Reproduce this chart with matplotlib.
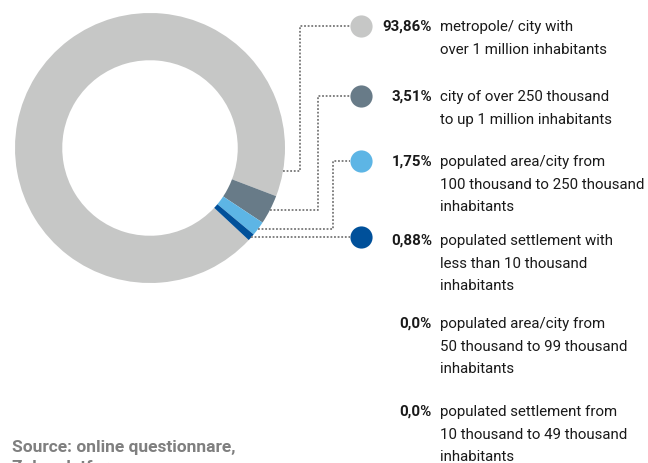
import numpy as np
import matplotlib.pyplot as plt

# share of respondents by place of residence
shares = [93.86, 3.51, 1.75, 0.88, 0.0, 0.0]
pct_labels = ['93,86%', '3,51%', '1,75%', '0,88%', '0,0%', '0,0%']
labels = ['metropole/ city with\nover 1 million inhabitants',
          'city of over 250 thousand\nto up 1 million inhabitants',
          'populated area/city from\n100 thousand to 250 thousand\ninhabitants',
          'populated settlement with\nless than 10 thousand\ninhabitants',
          'populated area/city from\n50 thousand to 99 thousand\ninhabitants',
          'populated settlement from\n10 thousand to 49 thousand\ninhabitants']
colors = ['#c6c7c6', '#687b88', '#5db5e5', '#00509a']

W, H = 648, 464
plt.rcParams['font.family'] = ['Roboto', 'DejaVu Sans']

fig = plt.figure(figsize=(W/100, H/100), dpi=100)
ax = fig.add_axes([0, 0, 1, 1])

# donut
cx, cy, R = 150, H - 149, 135
nz = [s for s in shares if s > 0]
wedges, _ = ax.pie(nz, colors=colors, center=(cx, cy), radius=R,
                   startangle=-43, counterclock=False,
                   wedgeprops=dict(width=R*0.35, linewidth=0))

# legend rows (y from top, pixels)
row_y = [27, 97, 162, 241, 324, 412]
elbow_x = [300, 318, 333, None]
dot_x = 361
line_h = 22.7
fs = 10.8

for i, w in enumerate(wedges):
    if i == 0:
        ang = -10.
    else:
        ang = (w.theta1 + w.theta2) / 2.
    a = np.radians(ang)
    x0 = cx + R*np.cos(a)
    y0 = cy + R*np.sin(a)
    yt = H - row_y[i]
    if elbow_x[i] is None:
        xs, ys = [x0, dot_x - 11], [y0, y0]
        yt = y0
    else:
        xs = [x0, elbow_x[i], elbow_x[i], dot_x - 11]
        ys = [y0, y0, yt, yt]
    ax.plot(xs, ys, color='#777777', lw=1.3, dashes=(1, 1), solid_capstyle='butt')
    ax.scatter([dot_x], [yt], s=255, color=colors[i], linewidths=0, zorder=3)

for i in range(len(shares)):
    y = H - row_y[i]
    ax.text(432, y, pct_labels[i], ha='right', va='center', fontsize=fs,
            fontweight='bold', color='#1a1a1a')
    for k, ln in enumerate(labels[i].split('\n')):
        ax.text(440, y - k*line_h, ln, ha='left', va='center', fontsize=fs,
                color='#1a1a1a')

ax.text(12, H - 448, 'Source: online questionnare,', ha='left', va='center',
        fontsize=12.5, fontweight='bold', color='#7f7f7f')
ax.text(12, H - 468, 'Zoho platform', ha='left', va='center',
        fontsize=12.5, fontweight='bold', color='#7f7f7f')

ax.set_xlim(0, W)
ax.set_ylim(0, H)
ax.set_aspect('equal')
ax.axis('off')
fig.savefig('out.png', dpi=100)
